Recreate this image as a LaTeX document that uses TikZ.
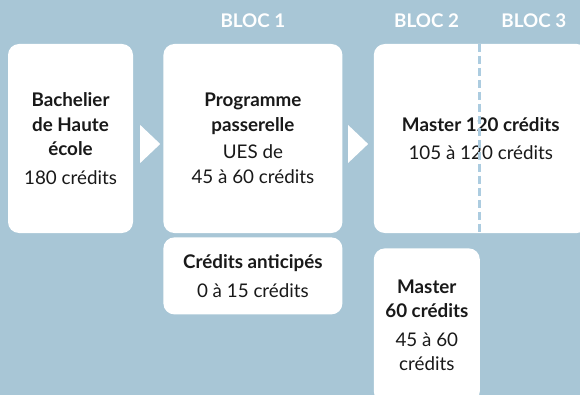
\documentclass[tikz,border=0pt]{standalone}
\usepackage{fontspec}
\setmainfont{Lato}
\usetikzlibrary{positioning, calc}
\definecolor{bgblue}{RGB}{168, 198, 214}
\definecolor{dashblue}{RGB}{172, 204, 224}
\definecolor{textgray}{RGB}{25, 25, 25}
\tikzstyle{panel} = [rectangle, rounded corners=11pt, fill=white, text=textgray, align=center, inner sep=0pt, font=\fontsize{18.8}{24.5}\selectfont]
\tikzstyle{bloc} = [text=white, inner sep=0pt, font=\fontsize{18.8}{20}\selectfont\bfseries]
\tikzstyle{chevron} = [fill=white]
\tikzstyle{splitline} = [dashblue, line width=2.4pt, dash pattern=on 8pt off 4pt]

\begin{document}
\begin{tikzpicture}

\clip (0,0) rectangle (580pt,-395pt);
\fill [bgblue] (0,0) rectangle (580pt,-395pt);

% Nodes
\node (bachelier) [panel, minimum width=125pt, minimum height=189pt] at (70.5pt,-138.5pt) {\textbf{Bachelier}\\\textbf{de Haute}\\\textbf{école}\\[4pt]180 crédits};
\node (passerelle) [panel, minimum width=179pt, minimum height=189pt, right=30pt of bachelier] {\textbf{Programme}\\\textbf{passerelle}\\[3pt]UES de\\45 à 60 crédits};
\node (master120) [panel, minimum width=214pt, minimum height=189pt, right=31pt of passerelle] {\textbf{Master 120 crédits}\\[4pt]105 à 120 crédits};
\node (anticipes) [panel, minimum width=179pt, minimum height=77pt, below=4pt of passerelle] {\textbf{Crédits anticipés}\\[4pt]0 à 15 crédits};
\node (master60) [panel, minimum width=106pt, minimum height=154pt, below right=15pt and 0pt of master120.south west] {\textbf{Master}\\\textbf{60 crédits}\\[4pt]45 à 60\\crédits};

% Bloc headers
\coordinate (blocsplit) at ($(master120.north west)+(106pt,0)$);
\coordinate (mid2) at ($(master120.north west)!0.5!(blocsplit)$);
\coordinate (mid3) at ($(blocsplit)!0.5!(master120.north east)$);
\node (bloc1) [bloc, above=16pt of passerelle.north, anchor=base] {BLOC 1};
\node (bloc2) [bloc, above=16pt of mid2, anchor=base] {BLOC 2};
\node (bloc3) [bloc, above=16pt of mid3, anchor=base] {BLOC 3};

% Split between bloc 2 and bloc 3
\draw [splitline] (blocsplit) -- (blocsplit |- master120.south);

% Chevrons between the steps
\coordinate (gap1) at ($(bachelier.east)!0.5!(passerelle.west)+(2pt,-5.5pt)$);
\coordinate (gap2) at ($(passerelle.east)!0.5!(master120.west)+(0pt,-5.5pt)$);
\fill [chevron] (gap1) ++(-10pt,19pt) -- ++(20pt,-19pt) -- ++(-20pt,-19pt) -- cycle;
\fill [chevron] (gap2) ++(-10pt,19pt) -- ++(20pt,-19pt) -- ++(-20pt,-19pt) -- cycle;

\end{tikzpicture}
\end{document}
